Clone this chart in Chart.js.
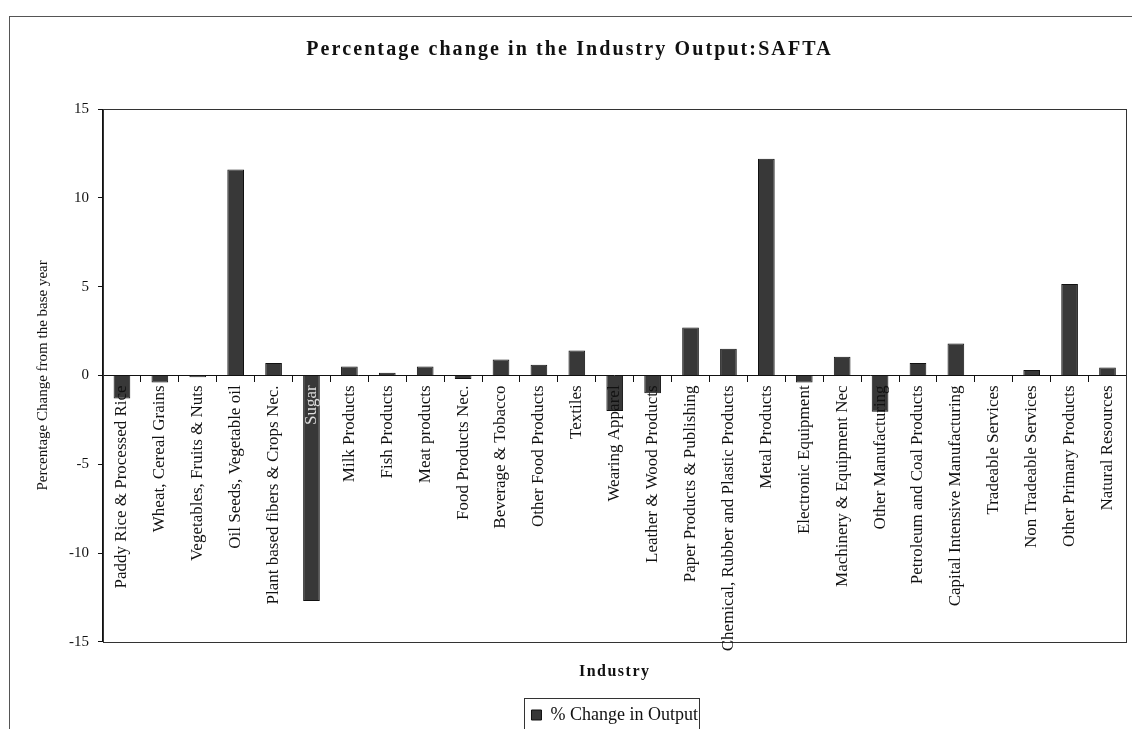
<!DOCTYPE html>
<html>
<head>
<meta charset="utf-8">
<script src="https://cdn.jsdelivr.net/npm/chart.js@4.4.1/dist/chart.umd.min.js"></script>
<style>
  html, body { margin: 0; padding: 0; background: #fff; }
  #wrap { position: relative; width: 1132px; height: 729px; overflow: hidden; }
  #frame { position: absolute; left: 9px; top: 16px; width: 1130px; height: 730px; border: 1px solid #555; box-sizing: border-box; pointer-events: none; }
  canvas { position: absolute; left: 0; top: 0; }
</style>
</head>
<body>
<div id="wrap">
  <canvas id="chart" width="1132" height="729"></canvas>
  <div id="frame"></div>
</div>
<script>
// industries along the x axis
const industries = [
  "Paddy Rice & Processed Rice",
  "Wheat, Cereal Grains",
  "Vegetables, Fruits & Nuts",
  "Oil Seeds, Vegetable oil",
  "Plant based fibers & Crops Nec.",
  "Sugar",
  "Milk Products",
  "Fish Products",
  "Meat products",
  "Food Products Nec.",
  "Beverage & Tobacco",
  "Other Food Products",
  "Textiles",
  "Wearing Apparel",
  "Leather & Wood Products",
  "Paper Products & Publishing",
  "Chemical, Rubber and Plastic Products",
  "Metal Products",
  "Electronic Equipment",
  "Machinery & Equipment Nec",
  "Other Manufacturing",
  "Petroleum and Coal Products",
  "Capital Intensive Manufacturing",
  "Tradeable Services",
  "Non Tradeable Services",
  "Other Primary Products",
  "Natural Resources"
];

// % change in output
const outputChange = [
  -1.3, -0.4, -0.1, 11.6, 0.7, -12.7, 0.5, 0.15, 0.5, -0.2, 0.9, 0.6, 1.4,
  -2.0, -1.0, 2.7, 1.5, 12.2, -0.4, 1.05, -2.05, 0.7, 1.8, 0, 0.3, 5.15, 0.45
];

const yTicks = [-15, -10, -5, 0, 5, 10, 15];

const serif = "'Liberation Serif', 'Times New Roman', serif";
Chart.defaults.font.family = serif;
Chart.defaults.color = "#111";

// box round the plot area
const plotBox = {
  id: "plotBox",
  beforeDatasetsDraw(chart) {
    const { ctx, chartArea: a } = chart;
    ctx.save();
    ctx.strokeStyle = "#333";
    ctx.lineWidth = 1;
    ctx.strokeRect(Math.round(a.left) + 0.5, Math.round(a.top) + 0.5,
      Math.round(a.right - a.left), Math.round(a.bottom - a.top));
    ctx.restore();
  }
};

// frame round the legend item
const legendBox = {
  id: "legendBox",
  afterDraw(chart) {
    const hb = chart.legend && chart.legend.legendHitBoxes[0];
    if (!hb) return;
    const ctx = chart.ctx;
    ctx.save();
    ctx.strokeStyle = "#333";
    ctx.lineWidth = 1;
    ctx.strokeRect(Math.round(hb.left) - 6.5, Math.round(hb.top) - 7.5, Math.round(hb.width) + 9, 60);
    ctx.restore();
  }
};

// the titles in the picture are letter-spaced
const spacedTitles = {
  id: "spacedTitles",
  afterLayout(chart) {
    chart.boxes.forEach(box => {
      if (box.options && typeof box.options.text === "string" && !box._spaced) {
        const draw = box.draw.bind(box);
        const spacing = box.options.position === "top" ? "2.1px" : "1.5px";
        box.draw = (area) => {
          chart.ctx.save();
          chart.ctx.letterSpacing = spacing;
          draw(area);
          chart.ctx.restore();
        };
        box._spaced = true;
      }
    });
  }
};

new Chart(document.getElementById("chart"), {
  type: "bar",
  data: {
    labels: industries,
    datasets: [{
      label: "% Change in Output",
      data: outputChange,
      backgroundColor: "#383838",
      borderColor: "#111",
      borderWidth: 1,
      barPercentage: 0.44,
      categoryPercentage: 1
    }]
  },
  options: {
    responsive: false,
    animation: false,
    layout: { padding: { left: 10, right: 3, top: 0, bottom: -5 } },
    plugins: {
      title: {
        display: true,
        text: "Percentage change in the Industry Output:SAFTA",
        font: { size: 20, weight: "bold" },
        color: "#111",
        padding: { top: 38, bottom: 47 }
      },
      subtitle: {
        display: true,
        position: "bottom",
        text: "Industry",
        fullSize: false,
        weight: 100,
        font: { size: 16, weight: "bold" },
        color: "#111",
        padding: { top: 20, bottom: 19 }
      },
      legend: {
        position: "bottom",
        fullSize: false,
        labels: {
          boxWidth: 10,
          boxHeight: 10,
          padding: 6,
          font: { size: 18 },
          color: "#111"
        }
      },
      tooltip: { enabled: false }
    },
    scales: {
      x: {
        position: { y: 0 },
        offset: true,
        grid: { offset: true, drawOnChartArea: false, tickLength: 6, color: "#111", tickColor: "#111" },
        border: { color: "#111", width: 1 },
        ticks: {
          z: 1,
          autoSkip: false,
          minRotation: 90,
          maxRotation: 90,
          padding: 4,
          font: { size: 17 },
          color: (c) => (industries[c.index] === "Sugar" ? "#ddd" : "#111")
        }
      },
      y: {
        min: yTicks[0],
        max: yTicks[yTicks.length - 1],
        afterBuildTicks: (axis) => { axis.ticks = yTicks.map(v => ({ value: v })); },
        grid: { drawOnChartArea: false, tickLength: 5, color: "#111", tickColor: "#111" },
        border: { color: "#111", width: 1 },
        ticks: { padding: 9, font: { size: 15 }, color: "#111" },
        title: {
          display: true,
          text: "Percentage Change from the base year",
          font: { size: 15 },
          color: "#111",
          padding: { top: 24, bottom: 8 }
        }
      }
    }
  },
  plugins: [plotBox, legendBox, spacedTitles]
});
</script>
</body>
</html>
